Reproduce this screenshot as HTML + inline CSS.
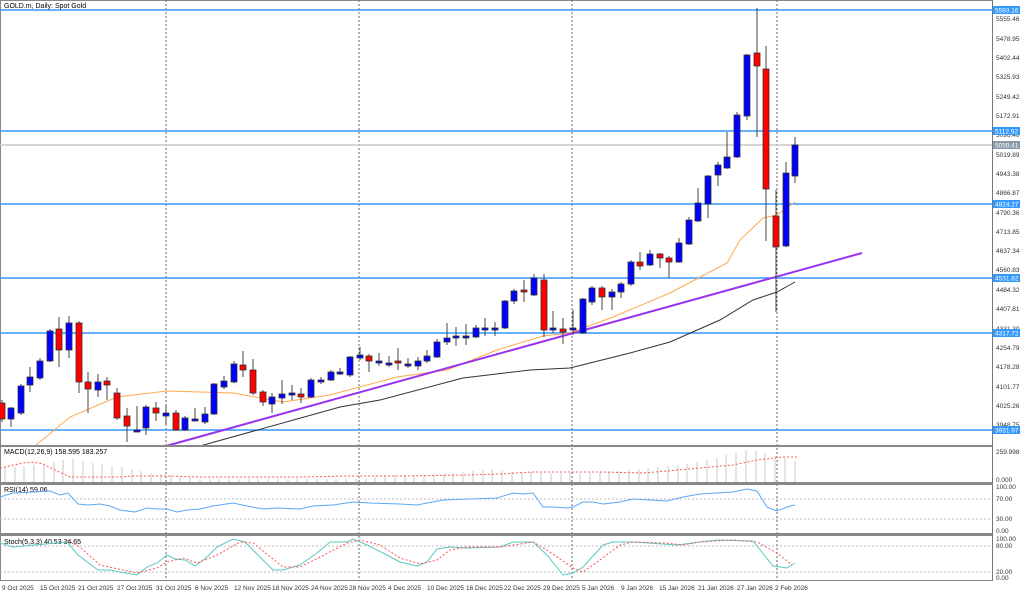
<!DOCTYPE html>
<html><head><meta charset="utf-8"><style>
html,body{margin:0;padding:0;background:#fff;}
svg{display:block;font-family:"Liberation Sans",sans-serif;}
</style></head><body>
<svg width="1024" height="594" viewBox="0 0 1024 594" xmlns="http://www.w3.org/2000/svg">
<rect width="1024" height="594" fill="#fff"/>
<rect x="0.5" y="0.5" width="992" height="580" fill="none" stroke="#888" stroke-width="1"/>
<g stroke="#666" stroke-dasharray="2,2" stroke-width="1">
<line x1="166" y1="0" x2="166" y2="581"/><line x1="359" y1="0" x2="359" y2="581"/>
<line x1="572" y1="0" x2="572" y2="581"/><line x1="777" y1="0" x2="777" y2="581"/>
</g>
<g stroke="#3399ff" stroke-width="1.5">
<line x1="0" y1="10" x2="992" y2="10"/><line x1="0" y1="131" x2="992" y2="131"/>
<line x1="0" y1="204" x2="992" y2="204"/><line x1="0" y1="278" x2="992" y2="278"/>
<line x1="0" y1="333" x2="992" y2="333"/><line x1="0" y1="430" x2="992" y2="430"/>
</g>
<line x1="0" y1="145" x2="992" y2="145" stroke="#c8c8c8" stroke-width="1.5"/>
<polyline fill="none" stroke="#ffa84c" stroke-width="1" points="35,446 70,417 117,397 167,391 233,393 283,402 330,395 397,377 447,370 497,350 543,336 570,333 613,317 670,293 727,263 740,240 763,218 777,215 795,202"/>
<polyline fill="none" stroke="#333" stroke-width="1" points="200,446 340,407 380,400 463,378 530,370 570,368 630,353 670,342 720,320 753,300 777,292 795,282"/>
<line x1="166" y1="446" x2="862" y2="253" stroke="#9933ee" stroke-width="2"/>
<g stroke="#444" stroke-width="1">
<line x1="2" y1="400" x2="2" y2="422"/><line x1="11" y1="407" x2="11" y2="427"/><line x1="21" y1="384" x2="21" y2="415"/><line x1="30" y1="367" x2="30" y2="392"/><line x1="40" y1="358" x2="40" y2="380"/><line x1="50" y1="329" x2="50" y2="362"/><line x1="59" y1="317" x2="59" y2="367"/><line x1="69" y1="316" x2="69" y2="358"/><line x1="79" y1="321" x2="79" y2="393"/><line x1="88" y1="372" x2="88" y2="413"/><line x1="98" y1="374" x2="98" y2="397"/><line x1="107" y1="377" x2="107" y2="400"/><line x1="117" y1="388" x2="117" y2="420"/><line x1="127" y1="408" x2="127" y2="442"/><line x1="137" y1="406" x2="137" y2="432"/><line x1="146" y1="405" x2="146" y2="435"/><line x1="156" y1="402" x2="156" y2="421"/><line x1="166" y1="405" x2="166" y2="424"/><line x1="176" y1="410" x2="176" y2="431"/><line x1="185" y1="416" x2="185" y2="431"/><line x1="195" y1="408" x2="195" y2="421"/><line x1="205" y1="407" x2="205" y2="424"/><line x1="214" y1="383" x2="214" y2="415"/><line x1="224" y1="376" x2="224" y2="389"/><line x1="234" y1="361" x2="234" y2="383"/><line x1="243" y1="351" x2="243" y2="377"/><line x1="253" y1="359" x2="253" y2="395"/><line x1="263" y1="390" x2="263" y2="406"/><line x1="272" y1="393" x2="272" y2="413"/><line x1="282" y1="380" x2="282" y2="404"/><line x1="292" y1="385" x2="292" y2="400"/><line x1="301" y1="388" x2="301" y2="403"/><line x1="311" y1="378" x2="311" y2="398"/><line x1="321" y1="377" x2="321" y2="384"/><line x1="331" y1="370" x2="331" y2="381"/><line x1="340" y1="368" x2="340" y2="375"/><line x1="350" y1="356" x2="350" y2="377"/><line x1="360" y1="347" x2="360" y2="360"/><line x1="369" y1="354" x2="369" y2="372"/><line x1="379" y1="353" x2="379" y2="366"/><line x1="389" y1="356" x2="389" y2="367"/><line x1="398" y1="348" x2="398" y2="370"/><line x1="408" y1="358" x2="408" y2="368"/><line x1="418" y1="357" x2="418" y2="370"/><line x1="427" y1="350" x2="427" y2="363"/><line x1="437" y1="339" x2="437" y2="358"/><line x1="447" y1="323" x2="447" y2="345"/><line x1="456" y1="327" x2="456" y2="346"/><line x1="466" y1="324" x2="466" y2="345"/><line x1="476" y1="325" x2="476" y2="338"/><line x1="485" y1="318" x2="485" y2="336"/><line x1="495" y1="322" x2="495" y2="336"/><line x1="505" y1="300" x2="505" y2="329"/><line x1="514" y1="289" x2="514" y2="304"/><line x1="524" y1="280" x2="524" y2="302"/><line x1="534" y1="274" x2="534" y2="296"/><line x1="544" y1="274" x2="544" y2="337"/><line x1="553" y1="311" x2="553" y2="333"/><line x1="563" y1="318" x2="563" y2="344"/><line x1="573" y1="310" x2="573" y2="335"/><line x1="583" y1="298" x2="583" y2="334"/><line x1="592" y1="286" x2="592" y2="305"/><line x1="602" y1="286" x2="602" y2="310"/><line x1="612" y1="289" x2="612" y2="310"/><line x1="621" y1="282" x2="621" y2="298"/><line x1="631" y1="260" x2="631" y2="286"/><line x1="640" y1="252" x2="640" y2="270"/><line x1="650" y1="250" x2="650" y2="266"/><line x1="660" y1="253" x2="660" y2="268"/><line x1="669" y1="256" x2="669" y2="278"/><line x1="679" y1="238" x2="679" y2="263"/><line x1="689" y1="217" x2="689" y2="245"/><line x1="698" y1="188" x2="698" y2="222"/><line x1="708" y1="175" x2="708" y2="218"/><line x1="718" y1="162" x2="718" y2="186"/><line x1="727" y1="132" x2="727" y2="169"/><line x1="737" y1="112" x2="737" y2="158"/><line x1="747" y1="54" x2="747" y2="120"/><line x1="757" y1="8" x2="757" y2="137"/><line x1="766" y1="46" x2="766" y2="241"/><line x1="776" y1="190" x2="776" y2="312"/><line x1="786" y1="162" x2="786" y2="247"/><line x1="795" y1="137" x2="795" y2="183"/>
</g>
<g stroke="#333" stroke-width="0.8">
<rect x="-1" y="403" width="6" height="16" fill="#f00"/><rect x="8" y="408" width="6" height="11" fill="#00f"/><rect x="18" y="386" width="6" height="27" fill="#00f"/><rect x="27" y="377" width="6" height="8" fill="#00f"/><rect x="37" y="361" width="6" height="17" fill="#00f"/><rect x="47" y="331" width="6" height="30" fill="#00f"/><rect x="56" y="329" width="6" height="21" fill="#f00"/><rect x="66" y="323" width="6" height="27" fill="#00f"/><rect x="76" y="323" width="6" height="59" fill="#f00"/><rect x="85" y="382" width="6" height="7" fill="#f00"/><rect x="95" y="382" width="6" height="8" fill="#00f"/><rect x="104" y="381" width="6" height="4" fill="#f00"/><rect x="114" y="393" width="6" height="25" fill="#f00"/><rect x="124" y="416" width="6" height="10" fill="#f00"/><rect x="134" y="430" width="6" height="2" fill="#00f"/><rect x="143" y="407" width="6" height="21" fill="#00f"/><rect x="153" y="408" width="6" height="5" fill="#f00"/><rect x="163" y="413" width="6" height="3" fill="#00f"/><rect x="173" y="413" width="6" height="17" fill="#f00"/><rect x="182" y="418" width="6" height="12" fill="#00f"/><rect x="192" y="419" width="6" height="2" fill="#00f"/><rect x="202" y="414" width="6" height="8" fill="#00f"/><rect x="211" y="384" width="6" height="30" fill="#00f"/><rect x="221" y="381" width="6" height="6" fill="#00f"/><rect x="231" y="364" width="6" height="18" fill="#00f"/><rect x="240" y="365" width="6" height="5" fill="#f00"/><rect x="250" y="370" width="6" height="23" fill="#f00"/><rect x="260" y="392" width="6" height="10" fill="#f00"/><rect x="269" y="397" width="6" height="7" fill="#00f"/><rect x="279" y="394" width="6" height="4" fill="#00f"/><rect x="289" y="393" width="6" height="2" fill="#00f"/><rect x="298" y="394" width="6" height="3" fill="#f00"/><rect x="308" y="380" width="6" height="17" fill="#00f"/><rect x="318" y="380" width="6" height="2" fill="#00f"/><rect x="328" y="372" width="6" height="8" fill="#00f"/><rect x="337" y="372" width="6" height="2" fill="#00f"/><rect x="347" y="357" width="6" height="18" fill="#00f"/><rect x="357" y="355" width="6" height="3" fill="#00f"/><rect x="366" y="356" width="6" height="5" fill="#f00"/><rect x="376" y="361" width="6" height="2" fill="#00f"/><rect x="386" y="363" width="6" height="2" fill="#00f"/><rect x="395" y="361" width="6" height="2" fill="#f00"/><rect x="405" y="364" width="6" height="2" fill="#00f"/><rect x="415" y="361" width="6" height="5" fill="#00f"/><rect x="424" y="356" width="6" height="5" fill="#00f"/><rect x="434" y="342" width="6" height="15" fill="#00f"/><rect x="444" y="338" width="6" height="4" fill="#00f"/><rect x="453" y="336" width="6" height="2" fill="#00f"/><rect x="463" y="336" width="6" height="2" fill="#00f"/><rect x="473" y="328" width="6" height="9" fill="#00f"/><rect x="482" y="328" width="6" height="2" fill="#00f"/><rect x="492" y="328" width="6" height="2" fill="#00f"/><rect x="502" y="301" width="6" height="27" fill="#00f"/><rect x="511" y="291" width="6" height="10" fill="#00f"/><rect x="521" y="290" width="6" height="2" fill="#f00"/><rect x="531" y="278" width="6" height="17" fill="#00f"/><rect x="541" y="280" width="6" height="50" fill="#f00"/><rect x="550" y="328" width="6" height="2" fill="#00f"/><rect x="560" y="329" width="6" height="3" fill="#f00"/><rect x="570" y="328" width="6" height="2" fill="#00f"/><rect x="580" y="299" width="6" height="34" fill="#00f"/><rect x="589" y="288" width="6" height="14" fill="#00f"/><rect x="599" y="288" width="6" height="9" fill="#f00"/><rect x="609" y="292" width="6" height="5" fill="#00f"/><rect x="618" y="284" width="6" height="8" fill="#00f"/><rect x="628" y="262" width="6" height="22" fill="#00f"/><rect x="637" y="262" width="6" height="4" fill="#f00"/><rect x="647" y="254" width="6" height="11" fill="#00f"/><rect x="657" y="254" width="6" height="4" fill="#f00"/><rect x="666" y="258" width="6" height="4" fill="#f00"/><rect x="676" y="243" width="6" height="19" fill="#00f"/><rect x="686" y="220" width="6" height="24" fill="#00f"/><rect x="695" y="203" width="6" height="18" fill="#00f"/><rect x="705" y="176" width="6" height="28" fill="#00f"/><rect x="715" y="165" width="6" height="10" fill="#00f"/><rect x="724" y="157" width="6" height="11" fill="#00f"/><rect x="734" y="115" width="6" height="42" fill="#00f"/><rect x="744" y="55" width="6" height="61" fill="#00f"/><rect x="754" y="53" width="6" height="13" fill="#f00"/><rect x="763" y="69" width="6" height="120" fill="#f00"/><rect x="773" y="216" width="6" height="31" fill="#f00"/><rect x="783" y="173" width="6" height="73" fill="#00f"/><rect x="792" y="145" width="6" height="31" fill="#00f"/>
</g>
<text x="4" y="8" font-size="7" fill="#000">GOLD.m, Daily:  Spot Gold</text>
<g fill="#888">
<rect x="0" y="445" width="993" height="2"/><rect x="0" y="482" width="993" height="3"/><rect x="0" y="533" width="993" height="3"/>
</g>
<text x="4" y="454" font-size="7" fill="#000">MACD(12,26,9) 158.595 183.257</text>
<path stroke="#c8c8c8" stroke-width="1" fill="none" d="M5 482V467M15 482V467M24 482V466M34 482V465M44 482V464M54 482V462M63 482V460M73 482V459M83 482V461M93 482V463M102 482V464M112 482V466M122 482V467M132 482V469M141 482V471M151 482V473M161 482V474M171 482V475M180 482V477M190 482V478M200 482V479M210 482V479M219 482V479M229 482V479M239 482V479M249 482V479M258 482V479M268 482V479M278 482V479M288 482V479M297 482V479M307 482V479M317 482V479M327 482V479M336 482V479M346 482V479M356 482V479M366 482V479M375 482V477M385 482V476M395 482V475M405 482V475M414 482V475M424 482V475M434 482V475M444 482V474M453 482V473M463 482V472M473 482V471M483 482V470M492 482V469M502 482V471M512 482V472M522 482V472M531 482V472M541 482V473M551 482V473M561 482V473M570 482V473M580 482V473M590 482V473M600 482V472M609 482V471M619 482V471M629 482V470M639 482V469M648 482V468M658 482V467M668 482V466M678 482V465M687 482V464M697 482V462M707 482V460M717 482V458M726 482V455M736 482V452M746 482V450M756 482V451M765 482V453M775 482V456M785 482V458M795 482V461"/>
<polyline fill="none" stroke="#f55" stroke-width="1" stroke-dasharray="2,2" points="0,468 23,463 33,462 43,464 55,470 70,477 100,477 120,477 133,476 167,476 200,477 300,477 350,476 400,476 467,475 500,474 533,472 567,472 600,472 643,473 667,471 700,468 733,465 757,460 783,457 797,457"/>
<text x="4" y="492" font-size="7" fill="#000">RSI(14) 59.06</text>
<g stroke="#bbb" stroke-dasharray="2,2"><line x1="0" y1="499" x2="992" y2="499"/><line x1="0" y1="519" x2="992" y2="519"/><line x1="0" y1="546" x2="992" y2="546"/><line x1="0" y1="572" x2="992" y2="572"/></g>
<polyline fill="none" stroke="#5aa9f5" stroke-width="1" points="0,497 13,493 33,492 50,491 60,495 68,493 78,504 88,505 100,504 110,506 120,510 135,512 147,508 157,509 167,509 177,512 187,510 200,509 213,506 233,503 247,506 263,509 277,508 300,509 313,506 333,505 353,502 370,503 400,504 417,505 427,503 443,500 470,499 497,498 513,493 523,494 533,493 543,507 553,507 567,508 573,507 583,502 593,502 603,504 620,502 633,499 667,501 683,497 700,494 733,492 747,489 757,491 767,507 777,511 787,507 795,505"/>
<text x="4" y="544" font-size="7" fill="#000">Stoch(5,3,3) 40.53 34.65</text>
<polyline fill="none" stroke="#5cc8c0" stroke-width="1" points="0,543 13,547 67,542 78,555 98,570 110,570 120,572 137,575 147,567 157,563 167,555 175,559 185,560 195,566 207,557 217,547 233,539 245,542 263,560 273,570 283,570 300,565 317,553 330,542 347,542 353,539 367,545 383,553 400,562 417,566 427,562 437,549 450,547 467,548 500,547 513,542 533,542 547,555 563,575 573,573 583,567 603,545 613,542 633,542 677,545 700,542 717,540 753,541 773,566 787,568 795,563"/>
<polyline fill="none" stroke="#f55" stroke-width="1" stroke-dasharray="2,2" points="67,540 80,547 100,565 137,573 157,568 167,562 183,558 197,563 217,555 240,542 253,543 283,567 300,567 320,557 347,543 360,540 380,545 400,558 420,564 437,560 450,550 467,547 500,547 533,542 547,550 573,568 583,572 600,560 620,545 633,542 667,543 683,545 700,542 733,540 757,542 777,553 792,565"/>
<line x1="992.5" y1="0" x2="992.5" y2="581" stroke="#777"/>
<g font-size="6.5" fill="#333">
<text x="996" y="21">5555.46</text><text x="996" y="41">5478.95</text><text x="996" y="60">5402.44</text><text x="996" y="79">5325.93</text><text x="996" y="99">5249.42</text><text x="996" y="118">5172.91</text><text x="996" y="137">5096.40</text><text x="996" y="157">5019.89</text><text x="996" y="176">4943.38</text><text x="996" y="195">4866.87</text><text x="996" y="215">4790.36</text><text x="996" y="234">4713.85</text><text x="996" y="253">4637.34</text><text x="996" y="272">4560.83</text><text x="996" y="292">4484.32</text><text x="996" y="311">4407.81</text><text x="996" y="331">4331.30</text><text x="996" y="350">4254.79</text><text x="996" y="369">4178.28</text><text x="996" y="389">4101.77</text><text x="996" y="408">4025.26</text><text x="996" y="427">3948.75</text>
<text x="996" y="454">259.998</text><text x="996" y="482">0.000</text>
<text x="996" y="489">100.00</text><text x="996" y="501">70.00</text><text x="996" y="521">30.00</text><text x="996" y="533">0.00</text>
<text x="996" y="541">100.00</text><text x="996" y="548">80.00</text><text x="996" y="574">20.00</text><text x="996" y="580">0.00</text>
</g>
<g>
<rect x="993" y="6" width="27" height="8" fill="#3399ff"/><rect x="993" y="127" width="27" height="8" fill="#3399ff"/><rect x="993" y="141" width="27" height="8" fill="#8899aa"/><rect x="993" y="200" width="27" height="8" fill="#3399ff"/><rect x="993" y="274" width="27" height="8" fill="#3399ff"/><rect x="993" y="329" width="27" height="8" fill="#3399ff"/><rect x="993" y="426" width="27" height="8" fill="#3399ff"/>
</g>
<g font-size="6.5" fill="#fff">
<text x="995" y="12.5">5593.16</text><text x="995" y="133.5">5112.92</text><text x="995" y="147.5">5059.41</text><text x="995" y="206.5">4824.27</text><text x="995" y="280.5">4531.82</text><text x="995" y="335.5">4317.72</text><text x="995" y="432.5">3931.97</text>
</g>
<g font-size="6.5" fill="#333">
<text x="2" y="590">9 Oct 2025</text><text x="40" y="590">15 Oct 2025</text><text x="78" y="590">21 Oct 2025</text><text x="117" y="590">27 Oct 2025</text><text x="156" y="590">31 Oct 2025</text><text x="195" y="590">6 Nov 2025</text><text x="234" y="590">12 Nov 2025</text><text x="272" y="590">18 Nov 2025</text><text x="311" y="590">24 Nov 2025</text><text x="349" y="590">28 Nov 2025</text><text x="388" y="590">4 Dec 2025</text><text x="427" y="590">10 Dec 2025</text><text x="466" y="590">16 Dec 2025</text><text x="504" y="590">22 Dec 2025</text><text x="543" y="590">29 Dec 2025</text><text x="582" y="590">5 Jan 2026</text><text x="621" y="590">9 Jan 2026</text><text x="659" y="590">15 Jan 2026</text><text x="698" y="590">21 Jan 2026</text><text x="737" y="590">27 Jan 2026</text><text x="775" y="590">2 Feb 2026</text>
</g>
</svg>
</body></html>
